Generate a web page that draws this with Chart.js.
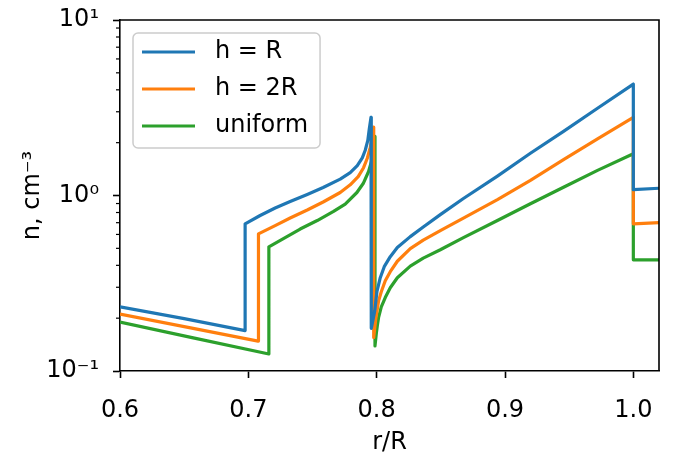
<!DOCTYPE html>
<html>
<head>
<meta charset="utf-8">
<script src="https://cdn.jsdelivr.net/npm/chart.js@4/dist/chart.umd.min.js"></script>
<style>
  html, body { margin: 0; padding: 0; background: #fff; }
  canvas { display: block; }
</style>
</head>
<body>
<canvas id="chart" width="687" height="460"></canvas>
<script>
// values: r/R and n [cm^-3]
const hR_x = [0.600, 0.650, 0.6975, 0.6975, 0.7092, 0.7209, 0.7326, 0.7459, 0.7583, 0.7716,
              0.7794, 0.7849, 0.7888, 0.7911, 0.7931, 0.7942, 0.7956,
              0.7958, 0.7985, 0.8002, 0.8028, 0.8059, 0.8106, 0.8161, 0.8262, 0.8363, 0.8496,
              0.8676, 0.8941, 0.9198, 0.9456, 0.9721, 1.000, 1.000, 1.020];
const hR_y = [0.232, 0.199, 0.170, 0.690, 0.769, 0.849, 0.924, 1.014, 1.11, 1.24,
              1.35, 1.48, 1.64, 1.81, 2.06, 2.38, 2.79,
              0.175, 0.220, 0.283, 0.340, 0.393, 0.448, 0.505, 0.583, 0.661, 0.778,
              0.961, 1.29, 1.74, 2.32, 3.14, 4.31, 1.08, 1.10];

const h2R_x = [0.600, 0.655, 0.7076, 0.7079, 0.7209, 0.7326, 0.7459, 0.7583, 0.7716, 0.7794,
               0.7856, 0.7898, 0.7927, 0.7950, 0.7966, 0.7976,
               0.7977, 0.7993, 0.8015, 0.8036, 0.8067, 0.8106, 0.8161, 0.8262, 0.8363, 0.8496,
               0.8676, 0.8941, 0.9198, 0.9456, 0.9721, 1.000, 1.000, 1.020];
const h2R_y = [0.211, 0.176, 0.148, 0.604, 0.674, 0.744, 0.827, 0.918, 1.04, 1.15,
               1.28, 1.44, 1.63, 1.88, 2.17, 2.45,
               0.155, 0.198, 0.251, 0.283, 0.327, 0.368, 0.422, 0.498, 0.557, 0.631,
               0.744, 0.948, 1.22, 1.60, 2.10, 2.79, 0.69, 0.70];

const uni_x = [0.600, 0.658, 0.7160, 0.7160, 0.7287, 0.7404, 0.7537, 0.7664, 0.7755, 0.7846,
               0.7895, 0.7937, 0.7962, 0.7976, 0.7985,
               0.7987, 0.7997, 0.8005, 0.8015, 0.8036, 0.8067, 0.8106, 0.8161, 0.8262, 0.8363,
               0.8496, 0.8676, 0.8941, 0.9198, 0.9456, 0.9721, 1.000, 1.000, 1.020];
const uni_y = [0.190, 0.154, 0.125, 0.510, 0.575, 0.644, 0.720, 0.811, 0.894, 1.04,
               1.17, 1.37, 1.585, 1.81, 2.17,
               0.139, 0.163, 0.181, 0.202, 0.232, 0.262, 0.298, 0.340, 0.396, 0.440,
               0.491, 0.575, 0.720, 0.897, 1.115, 1.39, 1.73, 0.43, 0.43];

const seriesLabels = ['h = R', 'h = 2R', 'uniform'];
const seriesColors = ['#1f77b4', '#ff7f0e', '#2ca02c'];

const xTicks = [0.6, 0.7, 0.8, 0.9, 1.0];
const xTickLabels = ['0.6', '0.7', '0.8', '0.9', '1.0'];
const yTicks = [0.1, 1, 10];
const yTickLabels = ['10⁻¹', '10⁰', '10¹'];
const yMinorTicks = [0.2, 0.3, 0.4, 0.5, 0.6, 0.7, 0.8, 0.9, 2, 3, 4, 5, 6, 7, 8, 9];

const FONT = '"DejaVu Sans", sans-serif';

function toPoints(xs, ys) {
    return xs.map((x, i) => ({ x: x, y: ys[i] }));
}

function makeDataset(i, xs, ys) {
    return {
        label: seriesLabels[i],
        data: toPoints(xs, ys),
        borderColor: seriesColors[i],
        backgroundColor: seriesColors[i],
        borderWidth: 3.2,
        borderJoinStyle: 'round',
        pointRadius: 0,
        tension: 0,
        fill: false
    };
}

function roundedRect(ctx, x, y, w, h, r) {
    ctx.beginPath();
    ctx.moveTo(x + r, y);
    ctx.arcTo(x + w, y, x + w, y + h, r);
    ctx.arcTo(x + w, y + h, x, y + h, r);
    ctx.arcTo(x, y + h, x, y, r);
    ctx.arcTo(x, y, x + w, y, r);
    ctx.closePath();
}

// top/right spines and minor ticks on the log axis
const framePlugin = {
    id: 'frame',
    afterDraw(chart) {
        const ctx = chart.ctx;
        const area = chart.chartArea;
        const yScale = chart.scales.y;
        ctx.save();
        ctx.strokeStyle = '#000';
        ctx.lineWidth = 1.2;
        yMinorTicks.forEach(v => {
            const py = yScale.getPixelForValue(v);
            ctx.beginPath();
            ctx.moveTo(area.left - 4, py);
            ctx.lineTo(area.left, py);
            ctx.stroke();
        });
        ctx.lineWidth = 1.6;
        ctx.beginPath();
        ctx.moveTo(area.left, area.top);
        ctx.lineTo(area.right, area.top);
        ctx.lineTo(area.right, area.bottom);
        ctx.stroke();
        ctx.restore();
    }
};

// matplotlib-like legend box in the upper left corner
const legendPlugin = {
    id: 'boxLegend',
    afterDraw(chart) {
        const ctx = chart.ctx;
        const area = chart.chartArea;
        const left = area.left + 13;
        const top = area.top + 13;
        ctx.save();
        ctx.font = '24px ' + FONT;
        const textW = Math.max(...chart.data.datasets.map(d => ctx.measureText(d.label).width));
        const w = 82 + textW + 12;
        const h = 115;
        roundedRect(ctx, left, top, w, h, 5);
        ctx.fillStyle = 'rgba(255,255,255,0.8)';
        ctx.fill();
        ctx.strokeStyle = '#cccccc';
        ctx.lineWidth = 1.5;
        ctx.stroke();
        chart.data.datasets.forEach((d, i) => {
            const cy = top + 19 + i * 37;
            ctx.strokeStyle = d.borderColor;
            ctx.lineWidth = 3.2;
            ctx.beginPath();
            ctx.moveTo(left + 9, cy);
            ctx.lineTo(left + 62, cy);
            ctx.stroke();
            ctx.fillStyle = '#000';
            ctx.textBaseline = 'middle';
            ctx.textAlign = 'left';
            ctx.fillText(d.label, left + 82, cy);
        });
        ctx.restore();
    }
};

Chart.defaults.font.family = FONT;
Chart.defaults.font.size = 24;
Chart.defaults.color = '#000';
Chart.defaults.animation = false;

new Chart(document.getElementById('chart'), {
    type: 'line',
    data: {
        datasets: [
            makeDataset(0, hR_x, hR_y),
            makeDataset(1, h2R_x, h2R_y),
            makeDataset(2, uni_x, uni_y)
        ]
    },
    options: {
        responsive: false,
        devicePixelRatio: 1,
        layout: { padding: { top: 20, right: 28, left: 0, bottom: 0 } },
        plugins: {
            legend: { display: false },
            tooltip: { enabled: false }
        },
        scales: {
            x: {
                type: 'linear',
                min: 0.6,
                max: 1.02,
                afterBuildTicks: (scale) => {
                    scale.ticks = xTicks.map(v => ({ value: v }));
                },
                afterFit: (scale) => { scale.height = 89; },
                ticks: {
                    autoSkip: false,
                    maxRotation: 0,
                    padding: 18,
                    callback: (value, index) => xTickLabels[index]
                },
                grid: {
                    drawOnChartArea: false,
                    drawTicks: true,
                    tickLength: 7,
                    tickWidth: 1.6,
                    tickColor: '#000'
                },
                border: { display: true, color: '#000', width: 1.6 },
                title: {
                    display: true,
                    text: 'r/R',
                    font: { size: 24 },
                    padding: { top: 0, bottom: 3 }
                }
            },
            y: {
                type: 'logarithmic',
                min: 0.1,
                max: 10,
                afterBuildTicks: (scale) => {
                    scale.ticks = yTicks.map(v => ({ value: v, major: true }));
                },
                afterFit: (scale) => {
                    scale.width = 120;
                    // the top label may overhang the plot; keep the plot top fixed
                    scale.paddingTop = 0;
                    scale.paddingBottom = 0;
                },
                ticks: {
                    autoSkip: false,
                    padding: 14,
                    callback: (value, index) => yTickLabels[index]
                },
                grid: {
                    drawOnChartArea: false,
                    drawTicks: true,
                    tickLength: 7,
                    tickWidth: 1.6,
                    tickColor: '#000'
                },
                border: { display: true, color: '#000', width: 1.6 },
                title: {
                    display: true,
                    text: 'n, cm⁻³',
                    font: { size: 24 },
                    padding: { top: 18, bottom: 0 }
                }
            }
        }
    },
    plugins: [framePlugin, legendPlugin]
});
</script>
</body>
</html>
